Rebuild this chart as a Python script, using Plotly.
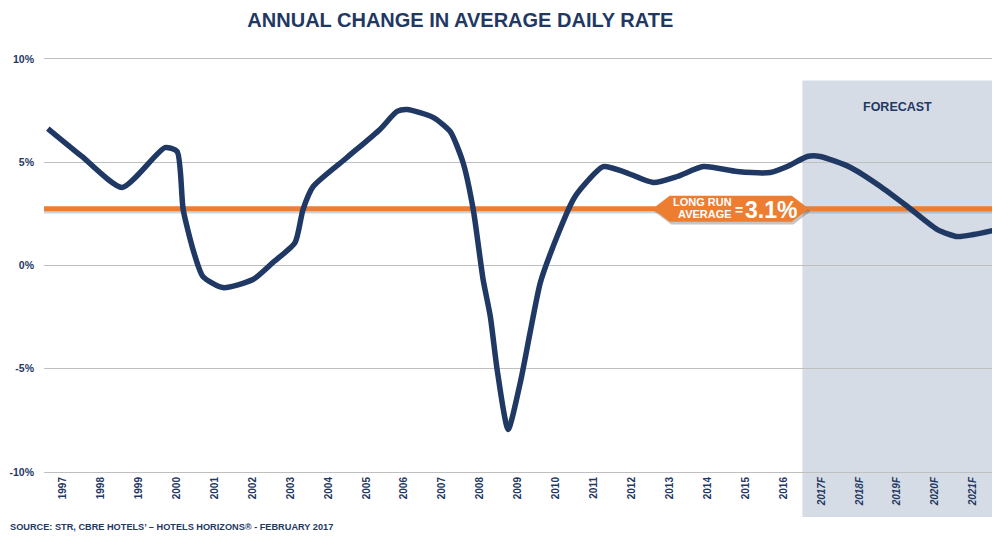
import plotly.graph_objects as go

# ---- data ----
years = list(range(1997, 2022))
year_labels = [str(y) for y in range(1997, 2017)] + [f"<i>{y}F</i>" for y in range(2017, 2022)]

# ADR annual change (%) (decimal year, value)
adr_time = [1996.60, 1997.50, 1998.56, 1999.69, 2000.01, 2000.17, 2000.43, 2000.69, 2001.22,
            2002.01, 2002.54, 2003.12, 2003.33, 2003.60, 2004.49, 2005.36, 2005.81, 2006.08,
            2006.76, 2007.21, 2007.55, 2007.82, 2008.08, 2008.27, 2008.45, 2008.74, 2009.06,
            2009.32, 2009.59, 2010.03, 2010.46, 2010.64, 2011.25, 2011.78, 2012.57, 2013.20,
            2013.89, 2014.78, 2015.65, 2016.10, 2016.63, 2016.97, 2017.77, 2018.56, 2019.27,
            2020.06, 2020.59, 2021.01, 2021.51]
adr_change = [6.63, 5.28, 3.78, 5.71, 5.52, 2.71, 0.77, -0.53, -1.07,
              -0.68, 0.15, 1.11, 2.71, 3.83, 5.23, 6.59, 7.46, 7.55,
              7.17, 6.49, 4.99, 2.71, -0.68, -2.47, -5.04, -7.94, -5.67,
              -3.24, -0.82, 1.40, 3.20, 3.68, 4.79, 4.55, 4.02, 4.31,
              4.79, 4.55, 4.50, 4.79, 5.28, 5.28, 4.75, 3.83, 2.86,
              1.74, 1.40, 1.50, 1.69]

long_run_avg_level = 2.75      # level at which the average line is drawn
long_run_avg_label = "3.1%"
forecast_start = 2016.5
forecast_top = 8.96

y_ticks = [-10, -5, 0, 5, 10]
y_tick_labels = ["-10%", "-5%", "0%", "5%", "10%"]

NAVY = "#1F3864"
ORANGE = "#ED7D31"
SHADE = "#D6DCE5"
GRID = "#BFBFBF"
FONT = "Liberation Sans"

fig = go.Figure()

fig.add_trace(go.Scatter(
    x=adr_time, y=adr_change, mode="lines",
    line=dict(color=NAVY, width=5.5, shape="spline", smoothing=0.6),
    hoverinfo="skip", showlegend=False,
))


def badge_path(cx, cy, dx_tip, dx_flat, dy, off_x=0.0, off_y=0.0):
    pts = [(cx - dx_tip, cy), (cx - dx_flat, cy + dy), (cx + dx_flat, cy + dy),
           (cx + dx_tip, cy), (cx + dx_flat, cy - dy), (cx - dx_flat, cy - dy)]
    return "M " + " L ".join(f"{x + off_x},{y + off_y}" for x, y in pts) + " Z"


badge_cx = 2014.61
shapes = [
    # forecast shaded box
    dict(type="rect", xref="x", yref="paper", x0=forecast_start, x1=years[-1] + 0.5,
         y0=-0.109, y1=(forecast_top + 10) / 20, fillcolor=SHADE, line=dict(width=0), layer="below"),
    # shadow of average line
    dict(type="line", xref="paper", yref="y", x0=0, x1=1,
         y0=long_run_avg_level - 0.13, y1=long_run_avg_level - 0.13,
         line=dict(color="rgba(110,110,110,0.30)", width=4), layer="between"),
    # average line
    dict(type="line", xref="paper", yref="y", x0=0, x1=1, y0=long_run_avg_level, y1=long_run_avg_level,
         line=dict(color=ORANGE, width=5), layer="between"),
    # badge shadow
    dict(type="path", xref="x", yref="y",
         path=badge_path(badge_cx, long_run_avg_level, 2.06, 1.61, 0.63, 0.04, -0.14),
         fillcolor="rgba(90,90,90,0.35)", line=dict(width=0), layer="above"),
    # badge
    dict(type="path", xref="x", yref="y",
         path=badge_path(badge_cx, long_run_avg_level, 2.06, 1.61, 0.63),
         fillcolor=ORANGE, line=dict(width=0), layer="above"),
]

annotations = [
    dict(text="LONG RUN", xref="x", yref="y", x=badge_cx, y=long_run_avg_level, xshift=3, yshift=7,
         showarrow=False, xanchor="right", yanchor="middle",
         font=dict(family=FONT, size=11, color="white", weight="bold")),
    dict(text="AVERAGE", xref="x", yref="y", x=badge_cx, y=long_run_avg_level, xshift=3, yshift=-5,
         showarrow=False, xanchor="right", yanchor="middle",
         font=dict(family=FONT, size=11, color="white", weight="bold")),
    dict(text="=", xref="x", yref="y", x=badge_cx, y=long_run_avg_level, xshift=8, yshift=-1,
         showarrow=False, xanchor="center", yanchor="middle",
         font=dict(family=FONT, size=14, color="white", weight="bold")),
    dict(text=long_run_avg_label, xref="x", yref="y", x=badge_cx, y=long_run_avg_level, xshift=12, yshift=-1,
         showarrow=False, xanchor="left", yanchor="middle",
         font=dict(family=FONT, size=23, color="white", weight="bold")),
    dict(text="FORECAST", xref="x", yref="y", x=2019, y=7.7, showarrow=False,
         xanchor="center", yanchor="middle",
         font=dict(family=FONT, size=12.5, color=NAVY, weight="bold")),
    dict(text="SOURCE: STR, CBRE HOTELS’ – HOTELS HORIZONS® - FEBRUARY 2017",
         xref="paper", yref="paper", x=-0.0375, y=-0.133, xanchor="left", yanchor="middle",
         showarrow=False, font=dict(family=FONT, size=9.2, color=NAVY, weight="bold")),
]

fig.update_layout(
    width=992, height=533,
    margin=dict(l=36, r=8, t=51, b=69, autoexpand=False),
    paper_bgcolor="white", plot_bgcolor="white",
    title=dict(text="ANNUAL CHANGE IN AVERAGE DAILY RATE", x=0.456, xanchor="center",
               y=0.9775, yanchor="middle", xref="container", yref="container",
               font=dict(family=FONT, size=20, color=NAVY, weight="bold")),
    shapes=shapes,
    annotations=annotations,
    showlegend=False,
)

fig.update_xaxes(
    range=[years[0] - 0.5, years[-1] + 0.5], automargin=False,
    tickmode="array", tickvals=years, ticktext=year_labels, tickangle=-90,
    tickfont=dict(family=FONT, size=10, color=NAVY, weight="bold"),
    showgrid=False, zeroline=False, showline=True, linecolor=GRID, linewidth=1, mirror=True,
    ticks="",
)
fig.update_yaxes(
    range=[-10, 10], automargin=False, tickmode="array", tickvals=y_ticks, ticktext=y_tick_labels,
    tickfont=dict(family=FONT, size=10.5, color=NAVY, weight="bold"),
    showgrid=True, gridcolor=GRID, gridwidth=1, zeroline=False, showline=False,
    ticks="", ticklabelstandoff=9,
)

fig.write_html("out.html")
